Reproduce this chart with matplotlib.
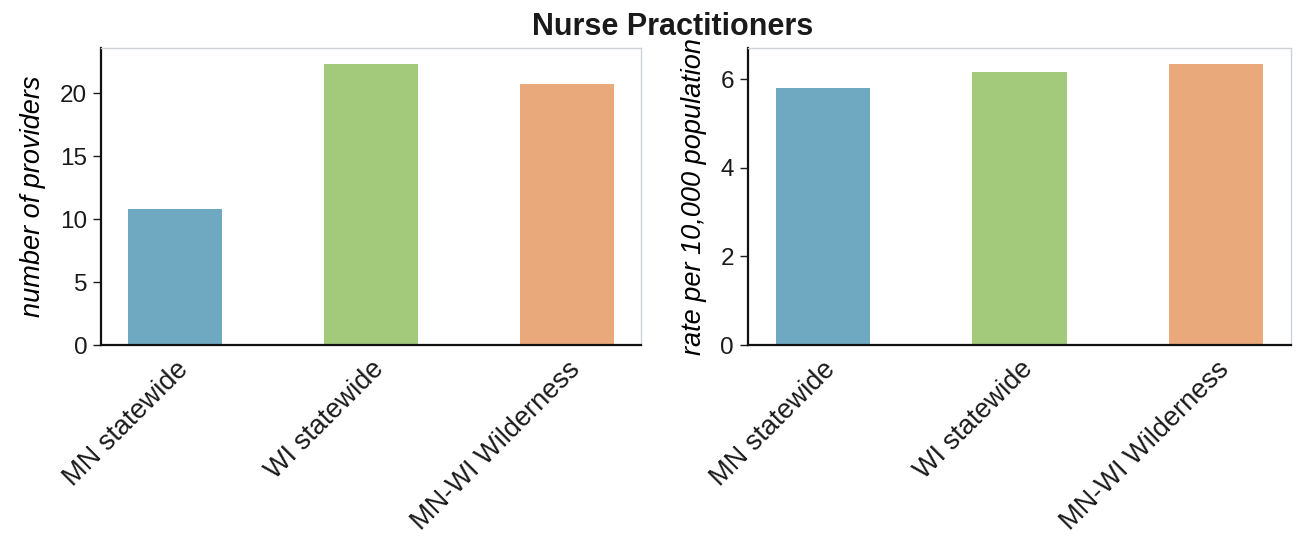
import numpy as np
import matplotlib
matplotlib.use('Agg')
import matplotlib.pyplot as plt

# data
regions = ['MN statewide', 'WI statewide', 'MN-WI Wilderness']
providers = [10.8, 22.3, 20.75]
rate = [5.8, 6.16, 6.34]
bar_colors = ['#6fa9c1', '#a3c97a', '#e9a97a']

plt.rcParams['font.family'] = ['Liberation Sans', 'DejaVu Sans']
plt.rcParams['text.color'] = '#1a1a1a'


def style_axes(ax, ylabel, ymax):
    ax.set_xlim(-0.38, 2.38)
    ax.set_ylim(0, ymax)
    ax.set_ylabel(ylabel, fontsize=19.5, style='italic', labelpad=10)
    for side in ['left', 'bottom']:
        ax.spines[side].set_color('#111111')
        ax.spines[side].set_linewidth(1.6)
    for side in ['top', 'right']:
        ax.spines[side].set_color('#cfd3d8')
        ax.spines[side].set_linewidth(1.0)
    ax.tick_params(axis='y', length=6, width=1, labelsize=17.5, pad=4, colors='#1a1a1a')
    ax.tick_params(axis='x', length=0, labelsize=19.5, pad=8, colors='#1a1a1a')
    ax.set_xticks(range(len(regions)))
    ax.set_xticklabels(regions, rotation=45, ha='right', rotation_mode='anchor')


fig = plt.figure(figsize=(12.99, 5.44), dpi=100)
fig.suptitle('Nurse Practitioners', fontsize=22, fontweight='bold', x=0.518, y=0.950, va='center')

ax1 = fig.add_axes([0.0778, 0.3658, 0.4157, 0.546])
ax1.bar(range(len(regions)), providers, width=0.48, color=bar_colors)
style_axes(ax1, 'number of providers', 23.6)
ax1.set_yticks([0, 5, 10, 15, 20])

ax2 = fig.add_axes([0.5758, 0.3658, 0.418, 0.546])
ax2.bar(range(len(regions)), rate, width=0.48, color=bar_colors)
style_axes(ax2, 'rate per 10,000 population', 6.71)
ax2.set_yticks([0, 2, 4, 6])

fig.savefig('out.png', dpi=100)
